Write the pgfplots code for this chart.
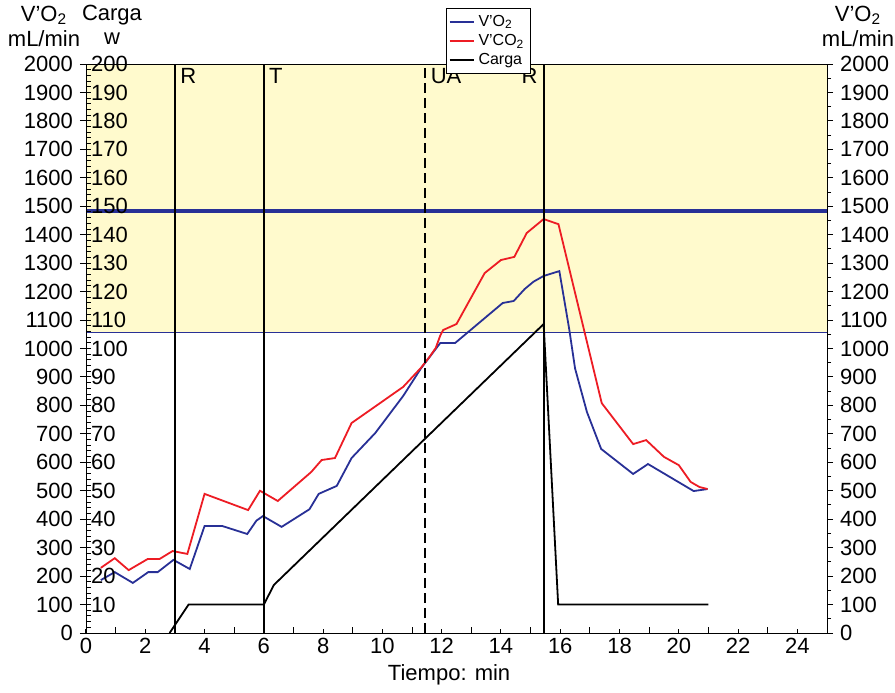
\documentclass[border=0pt]{standalone}
\usepackage{fontspec}
\setmainfont{Liberation Sans}
\usepackage{pgfplots}
\pgfplotsset{compat=1.18}

\definecolor{vo2}{RGB}{40,48,150}
\definecolor{vco2}{RGB}{237,28,36}
\definecolor{zona}{RGB}{255,250,205}

\begin{document}
\begin{tikzpicture}[font=\fontsize{11}{12}\selectfont]
\useasboundingbox (-43pt,-29.5pt) rectangle (404.5pt,316.5pt);
\pgfplotsset{every axis/.append style={
    scale only axis, width=370.5pt, height=284.5pt,
    xmin=0, xmax=25,
    /pgf/number format/assume math mode=true,
    /pgf/number format/1000 sep={},
    tick style={black, line width=0.5pt}}}

% datos
\begin{axis}[
    ymin=0, ymax=2000,
    clip=false, axis on top,
    xtick={0,2,...,24}, minor xtick={1,3,...,25},
    xtick pos=bottom, ytick=\empty,
    tick align=inside, major tick length=2pt, minor tick length=3pt,
    xticklabel style={yshift=1pt},
    legend style={at={(0.486,1.098)}, anchor=north west,
        font=\fontsize{8}{9}\selectfont, draw=black, line width=0.6pt,
        inner sep=1pt, row sep=-1.5pt, fill=white},
    legend cell align=left,
    legend image code/.code={\draw[#1, line width=0.9pt] (0pt,0pt) -- (12pt,0pt);},
]
\fill[zona] (axis cs:0,1055) rectangle (axis cs:25,2000);
\draw[vo2, line width=0.6pt] (axis cs:0,1055) -- (axis cs:25,1055);
\draw[vo2, line width=2pt] (axis cs:0,1483) -- (axis cs:25,1483);

\addplot[vo2, line width=0.9pt] coordinates {
 (0.5,186) (0.97,214) (1.58,176) (2.1,214) (2.42,214) (2.95,257) (3.5,225)
 (4.0,376) (4.6,376) (5.44,348) (5.75,395) (5.97,411) (6.6,373) (7.54,435)
 (7.85,489) (8.46,517) (8.96,615) (9.76,703) (10.7,833) (11.3,930) (11.95,1019)
 (12.45,1019) (14.06,1160) (14.43,1167) (14.8,1209) (15.1,1235) (15.44,1255)
 (15.97,1272) (16.3,1070) (16.5,930) (16.9,777) (17.38,647) (18.46,559)
 (18.96,594) (20.5,499) (20.97,506)};
\addlegendentry{V’O\textsubscript{2}}
\addplot[vco2, line width=0.9pt] coordinates {
 (0.5,229) (0.97,263) (1.44,221) (2.08,260) (2.48,260) (2.92,288) (3.42,278)
 (4.0,489) (5.47,432) (5.87,500) (6.47,464) (7.6,566) (7.95,608) (8.4,615)
 (8.96,738) (10.7,865) (11.3,932) (11.6,972) (11.8,1002) (11.95,1045)
 (12.05,1065) (12.5,1086) (13.45,1265) (14.0,1311) (14.45,1322) (14.87,1406)
 (15.44,1455) (15.94,1437) (17.4,808) (18.46,664) (18.9,678) (19.5,619)
 (20.0,590) (20.4,531) (20.7,513) (20.97,506)};
\addlegendentry{V’CO\textsubscript{2}}
\addplot[black, line width=0.9pt] coordinates {
 (2.82,0) (3.46,100) (6,100) (6.34,169) (15.44,1086) (15.93,100) (21,100)};
\addlegendentry{Carga}

\draw[black, line width=0.9pt] (axis cs:3,0) -- (axis cs:3,2000);
\draw[black, line width=0.9pt] (axis cs:6,0) -- (axis cs:6,2000);
\draw[black, line width=0.9pt, dash pattern=on 5pt off 2.5pt] (axis cs:11.45,0) -- (axis cs:11.45,2000);
\draw[black, line width=0.9pt] (axis cs:15.45,0) -- (axis cs:15.45,2000);
\node[anchor=north west, inner sep=0pt] at ([xshift=2.5pt,yshift=-2pt]axis cs:3,2000) {R};
\node[anchor=north west, inner sep=0pt] at ([xshift=2.5pt,yshift=-2pt]axis cs:6,2000) {T};
\node[anchor=north west, inner sep=0pt] at ([xshift=2.5pt,yshift=-2pt]axis cs:11.45,2000) {UA};
\node[anchor=north east, inner sep=0pt] at ([xshift=-3pt,yshift=-2pt]axis cs:15.45,2000) {R};

\node at ([yshift=-21pt]rel axis cs:0.49,0) {Tiempo: min};
\node at ([xshift=-21pt,yshift=24.5pt]rel axis cs:0,1) {V’O\textsubscript{2}};
\node at ([xshift=-21pt,yshift=12.5pt]rel axis cs:0,1) {mL/min};
\node at ([xshift=13pt,yshift=24.5pt]rel axis cs:0,1) {Carga};
\node at ([xshift=13pt,yshift=12.5pt]rel axis cs:0,1) {w};
\node at ([xshift=15.5pt,yshift=24.5pt]rel axis cs:1,1) {V’O\textsubscript{2}};
\node at ([xshift=15.5pt,yshift=12.5pt]rel axis cs:1,1) {mL/min};
\end{axis}

% eje izquierdo V'O2
\begin{axis}[
    ymin=0, ymax=2000,
    axis x line=none, axis y line*=left,
    ytick={0,100,...,2000},
    tick align=outside, major tick length=3pt,
]
\end{axis}

% eje interior Carga
\begin{axis}[
    ymin=0, ymax=200,
    axis x line=none, axis y line*=left,
    ytick={10,20,...,200}, minor ytick={0,2,...,200},
    tick align=inside, major tick length=0pt, minor tick length=2.5pt,
    yticklabel style={anchor=west, xshift=-1pt},
]
\end{axis}

% eje derecho
\begin{axis}[
    ymin=0, ymax=2000,
    axis x line=none, axis y line*=right,
    ytick={0,100,...,2000}, minor ytick={50,150,...,1950},
    tick align=outside, major tick length=3pt, minor tick length=2pt,
]
\end{axis}
\end{tikzpicture}
\end{document}
